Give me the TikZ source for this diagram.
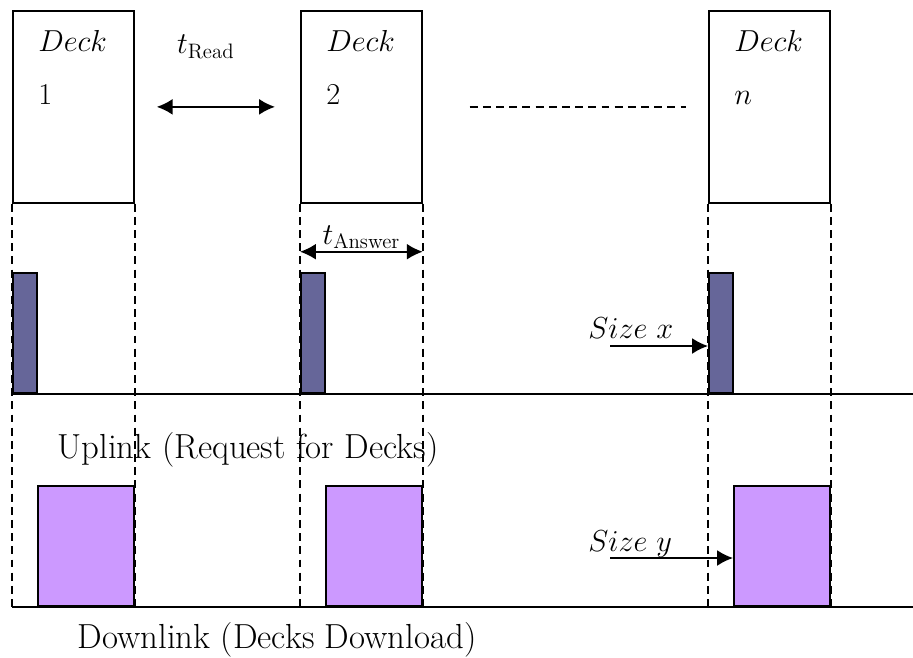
\documentclass[tikz,border=0pt]{standalone}
\usepackage{amsmath}
\usepackage{tikz}
\usetikzlibrary{arrows.meta}
\definecolor{cup}{HTML}{666699}
\definecolor{cdown}{HTML}{CC99FF}

\begin{document}
\begin{tikzpicture}[x=0.02cm,y=-0.02cm,
  font=\fontsize{17}{20}\selectfont,
  deck/.style={draw,line width=1pt,minimum width=2.42cm,minimum height=3.84cm,
    inner sep=0pt,anchor=north west},
  ubar/.style={draw,line width=1pt,fill=cup,minimum width=0.48cm,minimum height=2.4cm,
    inner sep=0pt,anchor=south west},
  dbox/.style={draw,line width=1pt,fill=cdown,minimum width=1.92cm,minimum height=2.4cm,
    inner sep=0pt,anchor=south east},
  lbl/.style={anchor=north west,align=left,inner sep=0pt},
  link/.style={anchor=base,inner sep=0pt,font=\fontsize{19.8}{22}\selectfont},
  guide/.style={dash pattern=on 4.5pt off 3pt,line width=0.9pt},
  dim/.style={{Latex[length=9pt,width=9pt]}-{Latex[length=9pt,width=9pt]},line width=1pt},
  ptr/.style={-{Latex[length=9pt,width=9pt]},line width=1pt}]
  \useasboundingbox (0,0) rectangle (913,657);
  % time lines
  \coordinate (ul) at (913,394);
  \coordinate (dl) at (913,607);

  % decks
  \node[deck] (d1) at (12,10) {};
  \node[deck] (d2) at (300,10) {};
  \node[deck] (dn) at (708,10) {};
  \node[lbl] at ([shift={(0.52cm,-0.4cm)}]d1.north west) {$Deck$\\[10pt]$1$};
  \node[lbl] at ([shift={(0.52cm,-0.4cm)}]d2.north west) {$Deck$\\[10pt]$2$};
  \node[lbl] at ([shift={(0.52cm,-0.4cm)}]dn.north west) {$Deck$\\[10pt]$n$};

  \foreach \d in {d1,d2,dn} {
    \draw[guide] (\d.south west) -- (\d.south west |- dl);
    \draw[guide] (\d.south east) -- (\d.south east |- dl);
  }

  % uplink
  \node[ubar] (u1) at (d1.south west |- ul) {};
  \node[ubar] (u2) at (d2.south west |- ul) {};
  \node[ubar] (u3) at (dn.south west |- ul) {};
  \draw[line width=1pt] (d1.south west |- ul) -- (ul);

  % downlink
  \node[dbox] (w1) at (d1.south east |- dl) {};
  \node[dbox] (w2) at (d2.south east |- dl) {};
  \node[dbox] (w3) at (dn.south east |- dl) {};
  \draw[line width=1pt] (d1.south west |- dl) -- (dl);

  % times
  \draw[dim] ([xshift=0.44cm]d1.east) -- node[above=0.95cm,xshift=-0.2cm,inner sep=0pt] {$t_{\text{Read}}$}
    ([xshift=-0.5cm]d2.west);
  \draw[guide] ([xshift=0.94cm]d2.east) -- ([xshift=-0.44cm]dn.west);
  \draw[dim] ([yshift=-0.96cm]d2.south west) -- node[above=1pt,inner sep=0pt] {$t_{\text{Answer}}$}
    ([yshift=-0.96cm]d2.south east);

  % sizes
  \node[anchor=base west,inner sep=0pt] (sx) at (588,338) {$Size\ x$};
  \coordinate (sxs) at (610,346);
  \draw[ptr] (sxs) -- (sxs -| u3.west);
  \node[anchor=base west,inner sep=0pt] (sy) at (588,551) {$Size\ y$};
  \coordinate (sys) at (610,558);
  \draw[ptr] (sys) -- (sys -| w3.west);

  \node[link] (uptxt) at (248,458) {Uplink (Request for Decks)};
  \node[link] (dntxt) at (277,648) {Downlink (Decks Download)};
\end{tikzpicture}
\end{document}
